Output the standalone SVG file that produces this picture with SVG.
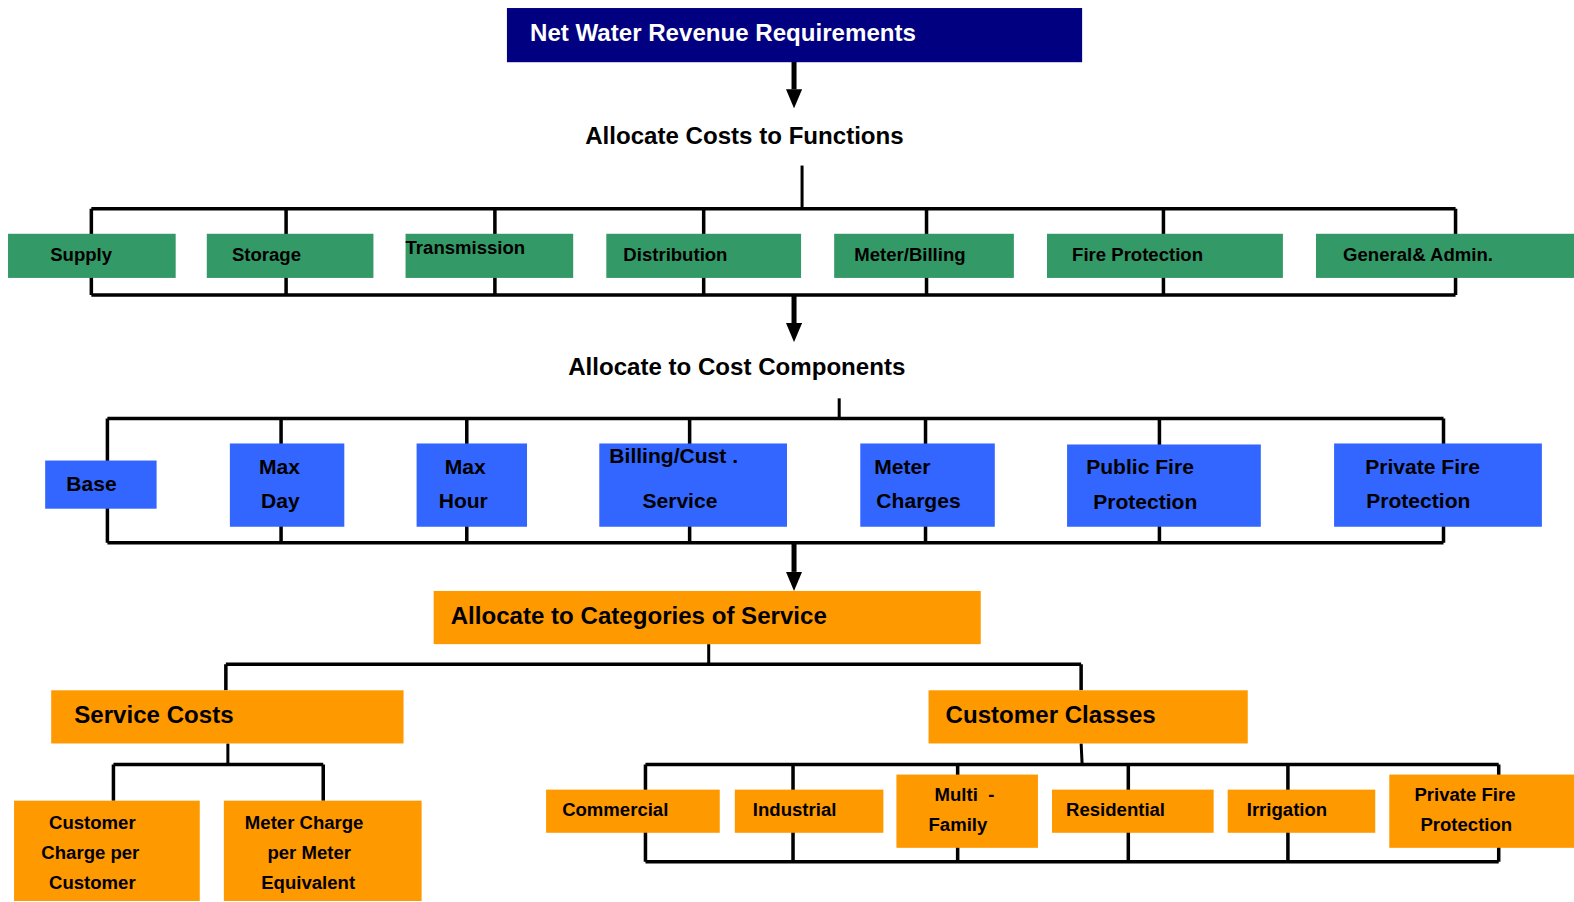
<svg xmlns="http://www.w3.org/2000/svg" width="1574" height="902" viewBox="0 0 1574 902">
<style>
text{font-family:"Liberation Sans",Arial,sans-serif;font-weight:bold;fill:#000}
.navy{fill:#000080}
.green{fill:#339966}
.blue{fill:#3366FF}
.orange{fill:#FF9900}
.w{fill:#fff}
.t24{font-size:24px}
.t21{font-size:21px}
.t18{font-size:18.5px}
.br{fill:none;stroke:#000;stroke-width:3.5}
.st{fill:none;stroke:#000;stroke-width:3}
.ar{fill:none;stroke:#000;stroke-width:5;marker-end:url(#ah)}
</style>
<defs>
<marker id="ah" markerUnits="userSpaceOnUse" markerWidth="19" markerHeight="16" viewBox="0 0 19 16" refX="0" refY="8" orient="auto">
<path d="M0,0 L19,8 L0,16 z" fill="#000"/>
</marker>
</defs>
<rect width="1574" height="902" fill="#fff"/>
<g id="diagram" transform="scale(1.00383,1.00334)">
<g id="connectors">
<line class="ar" x1="791" y1="60" x2="791" y2="89"/>
<line class="st" x1="799" y1="165" x2="799" y2="208"/>
<path class="br" d="M91,208 H1450 M91,294 H1450 M91,208 V294 M285,208 V294 M493,208 V294 M701,208 V294 M923,208 V294 M1159,208 V294 M1450,208 V294"/>
<line class="ar" x1="791" y1="294" x2="791" y2="322"/>
<line class="st" x1="836" y1="397" x2="836" y2="417"/>
<path class="br" d="M107,417 H1438 M107,541 H1438 M107,417 V541 M280,417 V541 M465,417 V541 M687,417 V541 M922,417 V541 M1155,417 V541 M1438,417 V541"/>
<line class="ar" x1="791" y1="541" x2="791" y2="570"/>
<line class="st" x1="706" y1="642" x2="706" y2="662"/>
<path class="br" d="M225,662 H1077 M225,662 V688 M1077,662 V688"/>
<line class="st" x1="227" y1="741" x2="227" y2="762"/>
<path class="br" d="M113,762 H322 M113,762 V798 M322,762 V798"/>
<line class="st" x1="1077" y1="741" x2="1078" y2="762"/>
<path class="br" d="M643,762 H1493 M643,859 H1493 M643,762 V859 M790,762 V859 M954,762 V859 M1124,762 V859 M1283,762 V859 M1493,762 V859"/>
</g>
<g id="n-net">
<rect class="navy" x="505" y="8" width="573" height="54"/>
<text class="t24 w" x="528" y="41">Net Water Revenue Requirements</text>
</g>
<g id="n-functions"><text class="t24" x="583" y="144">Allocate Costs to Functions</text></g>
<g id="n-supply"><rect class="green" x="8" y="233" width="167" height="44"/><text class="t18" x="50" y="260">Supply</text></g>
<g id="n-storage"><rect class="green" x="206" y="233" width="166" height="44"/><text class="t18" x="231" y="260">Storage</text></g>
<g id="n-transmission"><rect class="green" x="404" y="233" width="167" height="44"/><text class="t18" x="404" y="253">Transmission</text></g>
<g id="n-distribution"><rect class="green" x="604" y="233" width="194" height="44"/><text class="t18" x="621" y="260">Distribution</text></g>
<g id="n-meterbilling"><rect class="green" x="831" y="233" width="179" height="44"/><text class="t18" x="851" y="260">Meter/Billing</text></g>
<g id="n-fireprotection"><rect class="green" x="1043" y="233" width="235" height="44"/><text class="t18" x="1068" y="260">Fire Protection</text></g>
<g id="n-general"><rect class="green" x="1311" y="233" width="263" height="44"/><text class="t18" x="1338" y="260">General&amp; Admin.</text></g>
<g id="n-components"><text class="t24" x="566" y="374">Allocate to Cost Components</text></g>
<g id="n-base"><rect class="blue" x="45" y="459" width="111" height="48"/><text class="t21" x="66" y="489">Base</text></g>
<g id="n-maxday"><rect class="blue" x="229" y="442" width="114" height="83"/><text class="t21" x="258" y="472">Max</text><text class="t21" x="260" y="506">Day</text></g>
<g id="n-maxhour"><rect class="blue" x="415" y="442" width="110" height="83"/><text class="t21" x="443" y="472">Max</text><text class="t21" x="437" y="506">Hour</text></g>
<g id="n-billing"><rect class="blue" x="597" y="442" width="187" height="83"/><text class="t21" x="607" y="461">Billing/Cust .</text><text class="t21" x="640" y="506">Service</text></g>
<g id="n-metercharges"><rect class="blue" x="857" y="442" width="134" height="83"/><text class="t21" x="871" y="472">Meter</text><text class="t21" x="873" y="506">Charges</text></g>
<g id="n-publicfire"><rect class="blue" x="1063" y="443" width="193" height="82"/><text class="t21" x="1082" y="472">Public Fire</text><text class="t21" x="1089" y="507">Protection</text></g>
<g id="n-privatefire"><rect class="blue" x="1329" y="442" width="207" height="83"/><text class="t21" x="1360" y="472">Private Fire</text><text class="t21" x="1361" y="506">Protection</text></g>
<g id="n-categories"><rect class="orange" x="432" y="589" width="545" height="53"/><text class="t24" x="449" y="622">Allocate to Categories of Service</text></g>
<g id="n-servicecosts"><rect class="orange" x="51" y="688" width="351" height="53"/><text class="t24" x="74" y="721">Service Costs</text></g>
<g id="n-customerclasses"><rect class="orange" x="925" y="688" width="318" height="53"/><text class="t24" x="942" y="721">Customer Classes</text></g>
<g id="n-customercharge"><rect class="orange" x="14" y="798" width="185" height="100"/><text class="t18" x="92" y="826" text-anchor="middle">Customer</text><text class="t18" x="90" y="856" text-anchor="middle">Charge per</text><text class="t18" x="92" y="886" text-anchor="middle">Customer</text></g>
<g id="n-metercharge"><rect class="orange" x="223" y="798" width="197" height="100"/><text class="t18" x="303" y="826" text-anchor="middle">Meter Charge</text><text class="t18" x="308" y="856" text-anchor="middle">per Meter</text><text class="t18" x="307" y="886" text-anchor="middle">Equivalent</text></g>
<g id="n-commercial"><rect class="orange" x="544" y="787" width="173" height="43"/><text class="t18" x="560" y="813">Commercial</text></g>
<g id="n-industrial"><rect class="orange" x="732" y="787" width="148" height="43"/><text class="t18" x="750" y="813">Industrial</text></g>
<g id="n-multifamily"><rect class="orange" x="893" y="772" width="141" height="73"/><text class="t18" x="931" y="798" xml:space="preserve">Multi  -</text><text class="t18" x="925" y="828">Family</text></g>
<g id="n-residential"><rect class="orange" x="1048" y="787" width="161" height="43"/><text class="t18" x="1062" y="813">Residential</text></g>
<g id="n-irrigation"><rect class="orange" x="1223" y="787" width="147" height="43"/><text class="t18" x="1242" y="813">Irrigation</text></g>
<g id="n-privatefire2"><rect class="orange" x="1384" y="772" width="190" height="73"/><text class="t18" x="1409" y="798">Private Fire</text><text class="t18" x="1415" y="828">Protection</text></g>
</g>
</svg>
